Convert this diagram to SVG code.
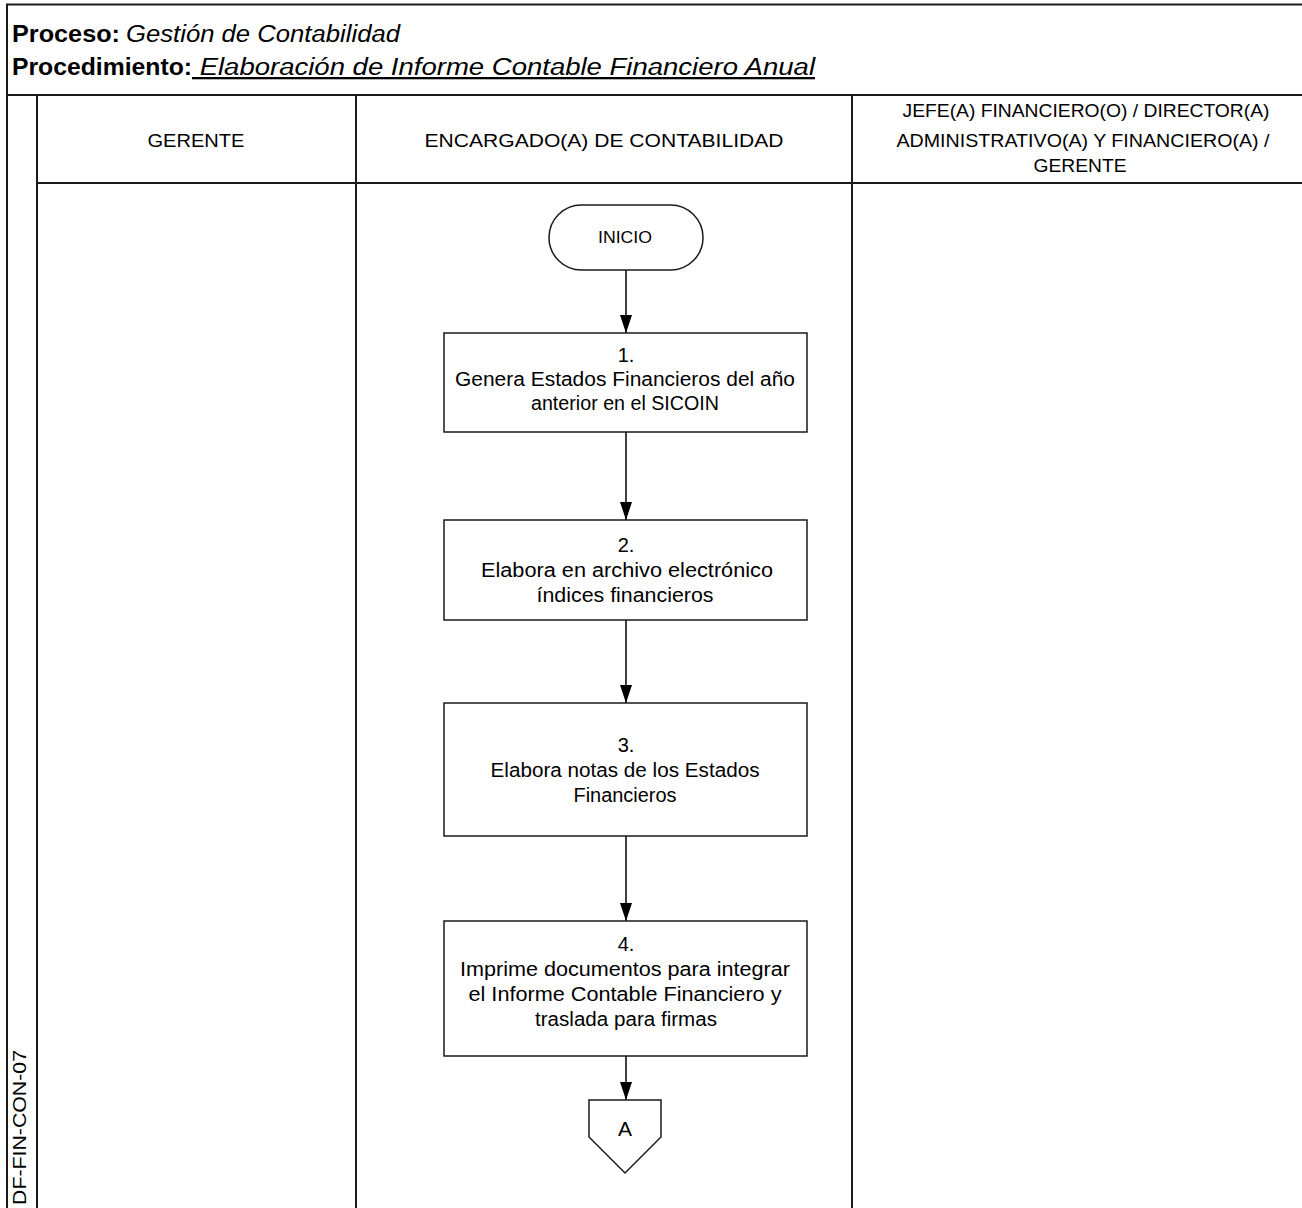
<svg xmlns="http://www.w3.org/2000/svg" width="1302" height="1208" viewBox="0 0 1302 1208">
  <defs>
    <marker id="arrow" viewBox="0 0 18 12" refX="18" refY="6" markerWidth="18" markerHeight="12" markerUnits="userSpaceOnUse" orient="auto">
      <path d="M0,0 L18,6 L0,12 Z" fill="#000"/>
    </marker>
    <style>
      .frame { fill: none; stroke: #1a1a1a; stroke-width: 2; }
      .grid { stroke: #1a1a1a; stroke-width: 2; }
      .shape { fill: #fff; stroke: #1a1a1a; stroke-width: 1.5; }
      .flow { stroke: #000; stroke-width: 1.5; fill: none; marker-end: url(#arrow); }
      .t { font-family: "Liberation Sans", Arial, sans-serif; fill: #000; }
      .lbl { font-size: 20px; text-anchor: middle; }
      .hdr { font-size: 19px; text-anchor: middle; }
    </style>
  </defs>

  <rect width="1302" height="1208" fill="#fff"/>

  <!-- table frame -->
  <g id="frame">
    <rect class="frame" x="7" y="4.5" width="1310" height="1220"/>
    <line class="grid" x1="7" y1="95" x2="1302" y2="95"/>
    <line class="grid" x1="37" y1="95" x2="37" y2="1208"/>
    <line class="grid" x1="37" y1="183" x2="1302" y2="183"/>
    <line class="grid" x1="356" y1="95" x2="356" y2="1208"/>
    <line class="grid" x1="852" y1="95" x2="852" y2="1208"/>
  </g>

  <!-- title block -->
  <g id="title">
    <text class="t" x="12" y="42" font-size="23" font-weight="bold" textLength="108" lengthAdjust="spacingAndGlyphs">Proceso:</text>
    <text class="t" x="126" y="42" font-size="23" font-style="italic" textLength="274" lengthAdjust="spacingAndGlyphs">Gestión de Contabilidad</text>
    <text class="t" x="12" y="75" font-size="23" font-weight="bold" textLength="180" lengthAdjust="spacingAndGlyphs">Procedimiento:</text>
    <text class="t" x="192" y="75" font-size="23" font-style="italic" text-decoration="underline" textLength="623" lengthAdjust="spacingAndGlyphs">&#160;Elaboración de Informe Contable Financiero Anual</text>
  </g>

  <!-- lane headers -->
  <g id="lane-gerente">
    <text class="t hdr" x="196" y="147" textLength="97" lengthAdjust="spacingAndGlyphs">GERENTE</text>
  </g>
  <g id="lane-contabilidad">
    <text class="t hdr" x="604" y="147" textLength="359" lengthAdjust="spacingAndGlyphs">ENCARGADO(A) DE CONTABILIDAD</text>
  </g>
  <g id="lane-jefe">
    <text class="t hdr" x="1086" y="117" textLength="367" lengthAdjust="spacingAndGlyphs">JEFE(A) FINANCIERO(O) / DIRECTOR(A)</text>
    <text class="t hdr" x="1083" y="147" textLength="373" lengthAdjust="spacingAndGlyphs">ADMINISTRATIVO(A) Y FINANCIERO(A) /</text>
    <text class="t hdr" x="1080" y="172" textLength="93" lengthAdjust="spacingAndGlyphs">GERENTE</text>
  </g>

  <!-- document code -->
  <g id="code">
    <text class="t" transform="translate(26,1205) rotate(-90)" font-size="18" textLength="155" lengthAdjust="spacingAndGlyphs">DF-FIN-CON-07</text>
  </g>

  <!-- connectors -->
  <g id="connectors">
    <line class="flow" x1="626" y1="270" x2="626" y2="333"/>
    <line class="flow" x1="626" y1="432" x2="626" y2="520"/>
    <line class="flow" x1="626" y1="620" x2="626" y2="703"/>
    <line class="flow" x1="626" y1="836" x2="626" y2="921"/>
    <line class="flow" x1="626" y1="1056" x2="626" y2="1100"/>
  </g>

  <!-- flow nodes -->
  <g id="inicio">
    <rect class="shape" x="549" y="205" width="154" height="65" rx="32.5" ry="32.5"/>
    <text class="t" x="625" y="243" font-size="17" text-anchor="middle" textLength="54" lengthAdjust="spacingAndGlyphs">INICIO</text>
  </g>

  <g id="step1">
    <rect class="shape" x="444" y="333" width="363" height="99"/>
    <text class="t lbl" x="626" y="362">1.</text>
    <text class="t lbl" x="625" y="386" textLength="340" lengthAdjust="spacingAndGlyphs">Genera Estados Financieros del año</text>
    <text class="t lbl" x="625" y="410" textLength="188" lengthAdjust="spacingAndGlyphs">anterior en el SICOIN</text>
  </g>

  <g id="step2">
    <rect class="shape" x="444" y="520" width="363" height="100"/>
    <text class="t lbl" x="626" y="552">2.</text>
    <text class="t lbl" x="627" y="577" textLength="292" lengthAdjust="spacingAndGlyphs">Elabora en archivo electrónico</text>
    <text class="t lbl" x="625" y="602" textLength="177" lengthAdjust="spacingAndGlyphs">índices financieros</text>
  </g>

  <g id="step3">
    <rect class="shape" x="444" y="703" width="363" height="133"/>
    <text class="t lbl" x="626" y="752">3.</text>
    <text class="t lbl" x="625" y="777" textLength="269" lengthAdjust="spacingAndGlyphs">Elabora notas de los Estados</text>
    <text class="t lbl" x="625" y="802" textLength="103" lengthAdjust="spacingAndGlyphs">Financieros</text>
  </g>

  <g id="step4">
    <rect class="shape" x="444" y="921" width="363" height="135"/>
    <text class="t lbl" x="626" y="951">4.</text>
    <text class="t lbl" x="625" y="976" textLength="330" lengthAdjust="spacingAndGlyphs">Imprime documentos para integrar</text>
    <text class="t lbl" x="625" y="1001" textLength="313" lengthAdjust="spacingAndGlyphs">el Informe Contable Financiero y</text>
    <text class="t lbl" x="626" y="1026" textLength="182" lengthAdjust="spacingAndGlyphs">traslada para firmas</text>
  </g>

  <g id="connector-a">
    <polygon class="shape" points="589,1100 661,1100 661,1137 625,1173 589,1137"/>
    <text class="t" x="625" y="1136" font-size="21" text-anchor="middle">A</text>
  </g>
</svg>
